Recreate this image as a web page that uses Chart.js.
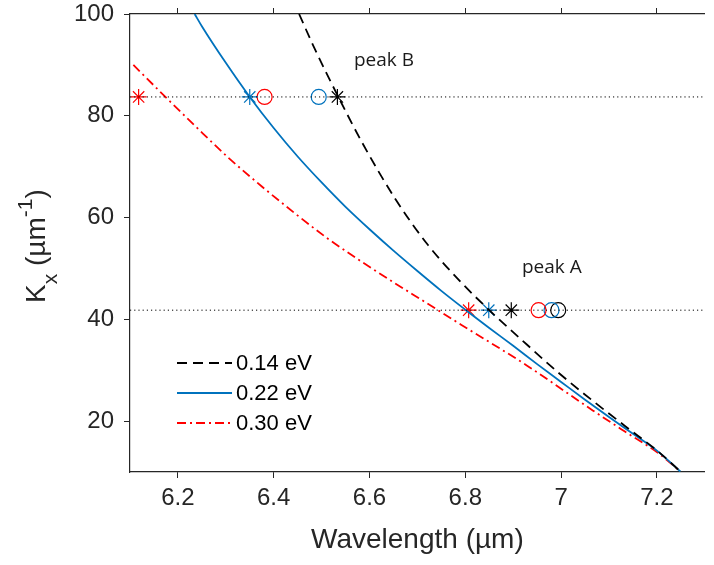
<!DOCTYPE html>
<html>
<head>
<meta charset="utf-8">
<script src="https://cdn.jsdelivr.net/npm/chart.js@4.4.0/dist/chart.umd.min.js"></script>
<style>
  html, body { margin: 0; padding: 0; background: #fff; }
</style>
</head>
<body>
<canvas id="chart" width="714" height="565"></canvas>
<script>
// axis ranges and ticks
const xTicks = [6.2, 6.4, 6.6, 6.8, 7.0, 7.2];
const yTicks = [20, 40, 60, 80, 100];

// dispersion curves (wavelength, Kx)
const x014 = [6.453, 6.484, 6.535, 6.586, 6.655, 6.723, 6.792, 6.850, 6.929, 6.997, 7.066, 7.134, 7.203, 7.249];
const y014 = [100, 93.5, 83.7, 74.5, 63.5, 54.5, 47.2, 41.8, 35.0, 29.3, 24.0, 19.0, 14.0, 10.1];

const x022 = [6.235, 6.25, 6.30, 6.35, 6.40, 6.45, 6.50, 6.55, 6.60, 6.65, 6.70, 6.75, 6.80, 6.85, 6.90, 6.95, 7.00, 7.05, 7.10, 7.15, 7.20, 7.249];
const y022 = [100, 97.6, 90.4, 83.7, 77.6, 72.0, 66.9, 62.1, 57.7, 53.5, 49.5, 45.6, 41.9, 38.3, 34.8, 31.2, 27.7, 24.2, 20.8, 17.5, 14.2, 10.1];

const x030 = [6.107, 6.175, 6.237, 6.305, 6.374, 6.442, 6.511, 6.579, 6.648, 6.716, 6.792, 6.929, 7.066, 7.134, 7.203, 7.249];
const y030 = [90.0, 83.6, 77.9, 71.8, 66.2, 61.0, 56.0, 51.6, 47.4, 43.4, 38.9, 30.9, 22.1, 17.9, 13.7, 10.1];

// peak levels
const peakB = 83.7;
const peakA = 41.8;

// markers: [peak B, peak A] wavelengths
const redStarX = [6.118, 6.807];
const blueStarX = [6.350, 6.849];
const blackStarX = [6.533, 6.896];
const redCircleX = [6.381, 6.953];
const blueCircleX = [6.494, 6.980];
const blackCircleX = [6.994];

const labels = ['0.14 eV', '0.22 eV', '0.30 eV'];

const BLUE = '#0072BD';
const RED = '#FF0000';
const BLACK = '#000000';
const AXIS = '#262626';
const FONT = "'Liberation Sans', Arial, sans-serif";

function pts(xs, ys) {
  return xs.map((x, i) => ({ x: x, y: ys[i] }));
}
function level(xs, y) {
  return xs.map(x => ({ x: x, y: y }));
}
function markerY(xs) {
  return xs.map((x, i) => ({ x: x, y: i == 0 && xs.length > 1 ? peakB : peakA }));
}

function curve(data, color, dash) {
  return {
    data: data, showLine: true, borderColor: color, borderWidth: 1.8,
    borderDash: dash, pointRadius: 0, cubicInterpolationMode: 'monotone'
  };
}
function marker(data, color, style, r) {
  return {
    data: data, showLine: false, pointStyle: style, pointRadius: r,
    borderColor: color, backgroundColor: 'rgba(0,0,0,0)', pointBorderWidth: 1.2
  };
}

const datasets = [
  curve(level([6.1, 7.3], peakB), BLACK, [1.2, 3]),
  curve(level([6.1, 7.3], peakA), BLACK, [1.2, 3]),
  curve(pts(x014, y014), BLACK, [10, 6]),
  curve(pts(x022, y022), BLUE, []),
  curve(pts(x030, y030), RED, [9, 4, 2, 4]),
  marker(markerY(redStarX), RED, 'star', 8),
  marker(markerY(blueStarX), BLUE, 'star', 8),
  marker(markerY(blackStarX), BLACK, 'star', 8),
  marker(markerY(redCircleX), RED, 'circle', 7.5),
  marker(markerY(blueCircleX), BLUE, 'circle', 7.5),
  marker(markerY(blackCircleX), BLACK, 'circle', 7.5)
];
datasets[0].borderWidth = 1;
datasets[1].borderWidth = 1;

const extras = {
  id: 'extras',
  afterDraw(chart) {
    const ctx = chart.ctx;
    ctx.save();
    // y axis title with sub/superscript
    ctx.translate(45, 303);
    ctx.rotate(-Math.PI / 2);
    ctx.fillStyle = AXIS;
    ctx.textBaseline = 'alphabetic';
    let x = 0;
    const big = '28px ' + FONT, small = '21px ' + FONT;
    ctx.font = big; ctx.fillText('K', x, 0); x += ctx.measureText('K').width;
    ctx.font = small; ctx.fillText('x', x, 12); x += ctx.measureText('x').width;
    ctx.font = big; ctx.fillText(' (\u00b5m', x, 0); x += ctx.measureText(' (\u00b5m').width;
    ctx.font = small; ctx.fillText('-1', x, -13); x += ctx.measureText('-1').width;
    ctx.font = big; ctx.fillText(')', x, 0);
    ctx.restore();

    // legend
    ctx.save();
    const styles = [[BLACK, [10, 6]], [BLUE, []], [RED, [9, 4, 2, 4]]];
    const rows = [363, 393, 423];
    ctx.font = '22px ' + FONT;
    ctx.textBaseline = 'middle';
    styles.forEach((s, i) => {
      ctx.strokeStyle = s[0];
      ctx.lineWidth = 1.8;
      ctx.setLineDash(s[1]);
      ctx.beginPath();
      ctx.moveTo(177, rows[i]);
      ctx.lineTo(232, rows[i]);
      ctx.stroke();
      ctx.fillStyle = '#000';
      ctx.fillText(labels[i], 236, rows[i] + 1);
    });
    ctx.restore();

    // peak labels
    ctx.save();
    ctx.font = "19px 'Open Sans', sans-serif";
    ctx.fillStyle = '#1a1a1a';
    ctx.textBaseline = 'alphabetic';
    ctx.fillText('peak B', 354, 66);
    ctx.fillText('peak A', 522, 273);
    ctx.restore();
  }
};

const tickFont = { family: FONT, size: 24 };

new Chart(document.getElementById('chart'), {
  type: 'scatter',
  data: { datasets: datasets },
  plugins: [extras],
  options: {
    responsive: false,
    animation: false,
    layout: { padding: 0 },
    plugins: { legend: { display: false }, tooltip: { enabled: false } },
    scales: {
      x: {
        type: 'linear', position: 'bottom', min: 6.1, max: 7.3,
        afterBuildTicks: s => { s.ticks = xTicks.map(v => ({ value: v })); },
        afterFit: s => { s.height = 93; s.paddingLeft = 0; s.paddingRight = 0; },
        ticks: { font: tickFont, color: AXIS, padding: 6, maxRotation: 0,
          callback: v => String(Math.round(v * 10) / 10) },
        grid: { drawOnChartArea: false, tickLength: 6, color: AXIS },
        border: { display: true, color: AXIS, width: 1.2 },
        title: { display: true, text: 'Wavelength (\u00b5m)', color: AXIS,
          font: { family: FONT, size: 28 }, padding: { top: 0, bottom: 8 } }
      },
      x2: {
        type: 'linear', position: 'top', min: 6.1, max: 7.3,
        afterBuildTicks: s => { s.ticks = xTicks.map(v => ({ value: v })); },
        afterFit: s => { s.height = 14; s.paddingLeft = 0; s.paddingRight = 0; },
        ticks: { display: false },
        grid: { drawOnChartArea: false, tickLength: 6, color: AXIS },
        border: { display: true, color: AXIS, width: 1.2 }
      },
      y: {
        type: 'linear', position: 'left', min: 10, max: 100,
        afterBuildTicks: s => { s.ticks = yTicks.map(v => ({ value: v })); },
        afterFit: s => { s.width = 130; s.paddingTop = 0; s.paddingBottom = 0; },
        ticks: { font: tickFont, color: AXIS, padding: 10 },
        grid: { drawOnChartArea: false, tickLength: 6, color: AXIS },
        border: { display: true, color: AXIS, width: 1.2 }
      }
    }
  }
});
</script>
</body>
</html>
